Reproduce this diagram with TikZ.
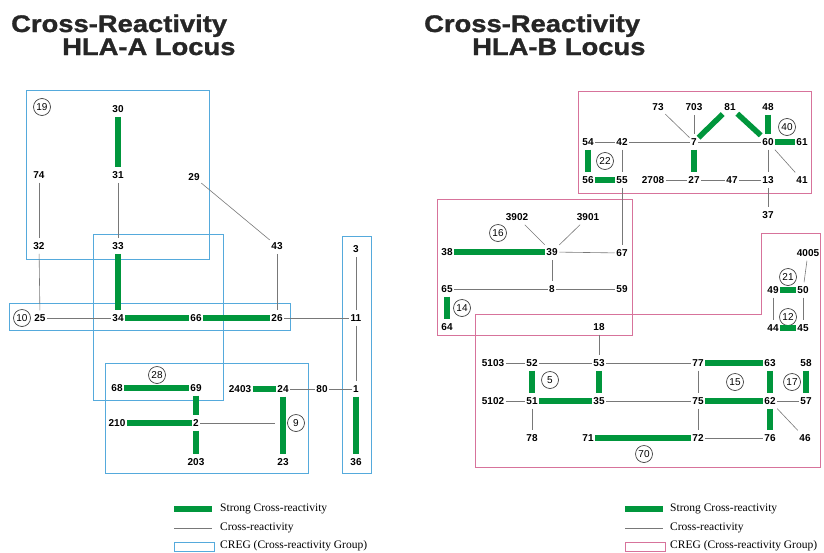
\documentclass[tikz,border=0pt]{standalone}
\usepackage{fontspec}
\setmainfont{Liberation Serif}
\setsansfont{Liberation Sans}
\newfontfamily\titlefont[FakeStretch=1.14,FakeBold=1.2]{Liberation Sans Bold}
\usetikzlibrary{positioning}
\definecolor{strongcol}{RGB}{0,150,60}
\definecolor{crosscol}{RGB}{120,120,120}
\definecolor{cregblue}{RGB}{85,170,220}
\definecolor{cregpink}{RGB}{215,115,155}

\begin{document}
\begin{tikzpicture}[
    x=1pt, y=-1pt,
    allele/.style={font=\sffamily\bfseries\fontsize{10}{12}\selectfont, inner xsep=1.5pt, inner ysep=4pt},
    grp/.style={draw=black!75, circle, line width=0.7pt, minimum size=17pt, inner sep=0pt, font=\sffamily\fontsize{10}{11}\selectfont},
    strongbar/.style={draw=strongcol, line width=5.5pt},
    crossline/.style={draw=crosscol, line width=0.6pt},
    cregA/.style={draw=cregblue, line width=0.9pt},
    cregB/.style={draw=cregpink, line width=0.9pt},
    title/.style={font=\titlefont\fontsize{24}{26}\selectfont, anchor=base west, inner sep=0pt, text=black!85},
    legend/.style={font=\fontsize{11.5}{13}\selectfont, anchor=west, inner sep=0pt}
  ]
  \useasboundingbox (0,0) rectangle (824,552);

  \node[title] (titleA1) at (11,32) {Cross-Reactivity};
  \node[title] (titleA2) at (62,55) {HLA-A Locus};
  \node[title] (titleB1) at (424,32) {Cross-Reactivity};
  \node[title] (titleB2) at (472,55) {HLA-B Locus};

  % HLA-A
  \draw[cregA] (26,90) rectangle (209,259);
  \draw[cregA] (93,234) rectangle (223,400);
  \draw[cregA] (9,303) rectangle (290,330);
  \draw[cregA] (342,236) rectangle (371,473);
  \draw[cregA] (105,363) rectangle (308,473);

  \node[allele] (a30) at (118,109) {30};
  \node[allele] (a31) at (118,175) {31};
  \node[allele] (a74) at (39,175) {74};
  \node[allele] (a29) at (194,177) {29};
  \node[allele] (a32) at (39,246) {32};
  \node[allele] (a33) at (118,246) {33};
  \node[allele] (a43) at (277,246) {43};
  \node[allele] (a3) at (356,249) {3};
  \node[allele] (a25) at (40,318) {25};
  \node[allele] (a34) at (118,318) {34};
  \node[allele] (a66) at (196,318) {66};
  \node[allele] (a26) at (277,318) {26};
  \node[allele] (a11) at (356,318) {11};
  \node[allele] (a68) at (117,388) {68};
  \node[allele] (a69) at (196,388) {69};
  \node[allele] (a2403) at (240,389) {2403};
  \node[allele] (a24) at (283,389) {24};
  \node[allele] (a80) at (322,389) {80};
  \node[allele] (a1) at (356,389) {1};
  \node[allele] (a210) at (117,423) {210};
  \node[allele] (a2) at (196,423) {2};
  \node[allele] (a203) at (196,462) {203};
  \node[allele] (a23) at (283,462) {23};
  \node[allele] (a36) at (356,462) {36};
  \coordinate (a2end) at (275,423);

  \node[grp] (g19) at (42,107) {19};
  \node[grp] (g10) at (22,318) {10};
  \node[grp] (g28) at (157,375) {28};
  \node[grp] (g9) at (296,423) {9};

  \foreach \u/\v in {a30/a31, a33/a34, a34/a66, a66/a26, a68/a69, a69/a2, a210/a2,
                     a2/a203, a2403/a24, a24/a23, a1/a36}
    \draw[strongbar] (\u) -- (\v);
  \foreach \u/\v in {a74/a32, a31/a33, a29/a43, a32/a25, a25/a34, a43/a26, a26/a11,
                     a3/a11, a11/a1, a24/a80, a80/a1, a2/a2end}
    \draw[crossline] (\u) -- (\v);

  % HLA-B
  \draw[cregB] (578,91) rectangle (811,193);
  \draw[cregB] (437,199) rectangle (632,335);
  \draw[cregB] (475,314) -- (761,314) -- (761,233) -- (820,233) -- (820,467) -- (475,467) -- cycle;

  \node[allele] (b73) at (658,107) {73};
  \node[allele] (b703) at (694,107) {703};
  \node[allele] (b81) at (730,107) {81};
  \node[allele] (b48) at (768,107) {48};
  \node[allele] (b54) at (588,142) {54};
  \node[allele] (b42) at (622,142) {42};
  \node[allele] (b7) at (694,142) {7};
  \node[allele] (b60) at (768,142) {60};
  \node[allele] (b61) at (802,142) {61};
  \node[allele] (b56) at (588,180) {56};
  \node[allele] (b55) at (622,180) {55};
  \node[allele] (b2708) at (653,180) {2708};
  \node[allele] (b27) at (694,180) {27};
  \node[allele] (b47) at (732,180) {47};
  \node[allele] (b13) at (768,180) {13};
  \node[allele] (b41) at (802,180) {41};
  \node[allele] (b37) at (768,215) {37};
  \node[allele] (b3902) at (517,217) {3902};
  \node[allele] (b3901) at (588,217) {3901};
  \node[allele] (b38) at (447,252) {38};
  \node[allele] (b39) at (552,252) {39};
  \node[allele] (b67) at (622,253) {67};
  \node[allele] (b65) at (447,289) {65};
  \node[allele] (b8) at (552,289) {8};
  \node[allele] (b59) at (622,289) {59};
  \node[allele] (b64) at (447,327) {64};
  \node[allele] (b18) at (599,327) {18};
  \node[allele] (b4005) at (808,253) {4005};
  \node[allele] (b49) at (773,290) {49};
  \node[allele] (b50) at (803,290) {50};
  \node[allele] (b44) at (773,328) {44};
  \node[allele] (b45) at (803,328) {45};
  \node[allele] (b5103) at (493,363) {5103};
  \node[allele] (b52) at (532,363) {52};
  \node[allele] (b53) at (599,363) {53};
  \node[allele] (b77) at (698,363) {77};
  \node[allele] (b63) at (770,363) {63};
  \node[allele] (b58) at (806,363) {58};
  \node[allele] (b5102) at (493,401) {5102};
  \node[allele] (b51) at (532,401) {51};
  \node[allele] (b35) at (599,401) {35};
  \node[allele] (b75) at (698,401) {75};
  \node[allele] (b62) at (770,401) {62};
  \node[allele] (b57) at (806,401) {57};
  \node[allele] (b78) at (532,438) {78};
  \node[allele] (b71) at (588,438) {71};
  \node[allele] (b72) at (698,438) {72};
  \node[allele] (b76) at (770,438) {76};
  \node[allele] (b46) at (805,438) {46};

  \node[grp] (g22) at (605,161) {22};
  \node[grp] (g40) at (787,127) {40};
  \node[grp] (g16) at (498,233) {16};
  \node[grp] (g14) at (462,308) {14};
  \node[grp] (g21) at (788,277) {21};
  \node[grp] (g12) at (788,317) {12};
  \node[grp] (g5) at (550,380) {5};
  \node[grp] (g15) at (735,382) {15};
  \node[grp] (g17) at (792,382) {17};
  \node[grp] (g70) at (644,454) {70};

  \foreach \u/\v in {b54/b56, b56/b55, b7/b27, b7/b81, b81/b60, b48/b60, b60/b61,
                     b38/b39, b65/b64, b52/b51, b53/b35, b51/b35, b77/b63, b75/b62,
                     b63/b62, b62/b76, b71/b72, b58/b57, b49/b50, b44/b45}
    \draw[strongbar] (\u) -- (\v);
  \foreach \u/\v in {b54/b42, b42/b7, b7/b60, b73/b7, b703/b7, b42/b55, b55/b67,
                     b2708/b27, b27/b47, b47/b13, b60/b13, b60/b41, b13/b37,
                     b3902/b39, b3901/b39, b39/b67, b39/b8, b65/b8, b8/b59, b18/b53,
                     b5103/b52, b52/b53, b53/b77, b5102/b51, b35/b75, b62/b57,
                     b51/b78, b77/b75, b75/b72, b72/b76, b62/b46, b4005/b50,
                     b49/b44, b50/b45}
    \draw[crossline] (\u) -- (\v);

  % legends
  \draw[strongbar] (174,509) -- (212,509);
  \draw[crossline] (174,528) -- (212,528);
  \draw[cregA] (174,542) rectangle (214,551);
  \node[legend] (legA1) at (220,509) {Strong Cross-reactivity};
  \node[legend] (legA2) at (220,528) {Cross-reactivity};
  \node[legend] (legA3) at (220,546) {CREG (Cross-reactivity Group)};

  \draw[strongbar] (625,509) -- (663,509);
  \draw[crossline] (625,528) -- (663,528);
  \draw[cregB] (625,542) rectangle (665,551);
  \node[legend] (legB1) at (670,509) {Strong Cross-reactivity};
  \node[legend] (legB2) at (670,528) {Cross-reactivity};
  \node[legend] (legB3) at (670,546) {CREG (Cross-reactivity Group)};
\end{tikzpicture}
\end{document}
